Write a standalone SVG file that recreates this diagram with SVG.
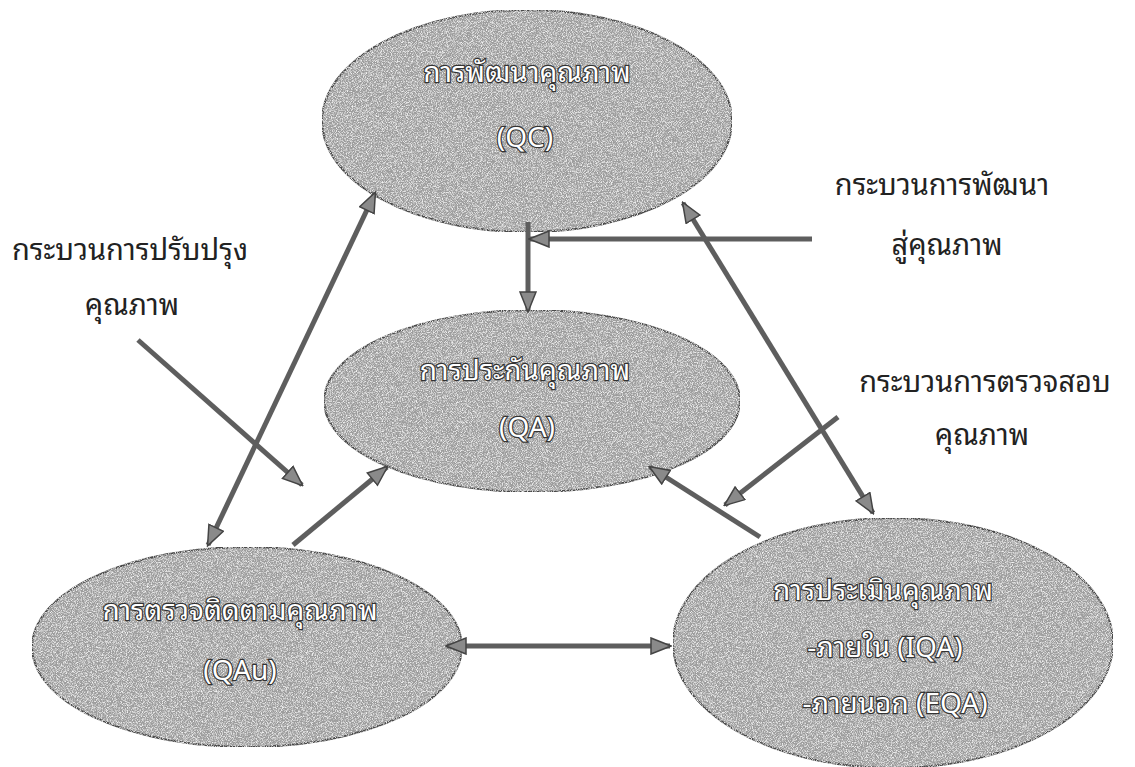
<svg xmlns="http://www.w3.org/2000/svg" width="1135" height="767" viewBox="0 0 1135 767">
<defs>
  <filter id="grain" x="0" y="0" width="100%" height="100%">
    <feTurbulence type="fractalNoise" baseFrequency="1.2" numOctaves="1" seed="3" result="n"/>
    <feColorMatrix in="n" type="matrix" values="0 0 0 0 0.9  0 0 0 0 0.9  0 0 0 0 0.9  0 0 0 3 -1.3" result="dots"/>
    <feComposite in="dots" in2="SourceGraphic" operator="in" result="d2"/>
    <feMerge><feMergeNode in="SourceGraphic"/><feMergeNode in="d2"/></feMerge>
  </filter>
  <marker id="ah" viewBox="0 0 22 18" refX="20" refY="9" markerWidth="22" markerHeight="18" markerUnits="userSpaceOnUse" orient="auto-start-reverse">
    <path d="M1,1 L21,9 L1,17 Z" fill="#8a8a8a" stroke="#444" stroke-width="1.5" stroke-linejoin="miter"/>
  </marker>
  <style>
    .node ellipse { fill: #9d9d9d; stroke: #4a4a4a; stroke-width: 2; }
    .nt { font-family: "Noto Sans Thai Looped", "Noto Serif Thai", "Noto Sans Thai", "Noto Sans", "DejaVu Sans", sans-serif; font-size: 28px; fill: #ffffff; stroke: #333; stroke-width: 2.4; paint-order: stroke; text-anchor: middle; }
    .lbl { font-family: "Noto Sans Thai Looped", "Noto Serif Thai", "Noto Sans Thai", "Noto Sans", "DejaVu Sans", sans-serif; font-size: 29px; fill: #222; text-anchor: middle; }
    .conn line { stroke: #5e5e5e; stroke-width: 5; }
  </style>
</defs>
<rect width="1135" height="767" fill="#ffffff"/>

<g id="node-qc" class="node">
  <ellipse cx="527" cy="121" rx="205" ry="111" filter="url(#grain)"/>
  <text class="nt" x="527" y="82">การพัฒนาคุณภาพ</text>
  <text class="nt" x="525" y="147">(QC)</text>
</g>
<g id="node-qa" class="node">
  <ellipse cx="532" cy="401" rx="208" ry="91" filter="url(#grain)"/>
  <text class="nt" x="525" y="380">การประกันคุณภาพ</text>
  <text class="nt" x="527" y="437">(QA)</text>
</g>
<g id="node-qau" class="node">
  <ellipse cx="247" cy="647" rx="215" ry="100" filter="url(#grain)"/>
  <text class="nt" x="240" y="620">การตรวจติดตามคุณภาพ</text>
  <text class="nt" x="240" y="680">(QAu)</text>
</g>
<g id="node-eqa" class="node">
  <ellipse cx="893" cy="643" rx="220" ry="125" filter="url(#grain)"/>
  <text class="nt" x="883" y="600">การประเมินคุณภาพ</text>
  <text class="nt" x="885" y="657">-ภายใน (IQA)</text>
  <text class="nt" x="895" y="713">-ภายนอก (EQA)</text>
</g>

<g id="labels">
  <text class="lbl" x="130" y="260">กระบวนการปรับปรุง</text>
  <text class="lbl" x="132" y="315">คุณภาพ</text>
  <text class="lbl" x="942" y="195">กระบวนการพัฒนา</text>
  <text class="lbl" x="947" y="255">สู่คุณภาพ</text>
  <text class="lbl" x="985" y="392">กระบวนการตรวจสอบ</text>
  <text class="lbl" x="982" y="445">คุณภาพ</text>
</g>

<g id="connectors" class="conn">
  <line x1="528" y1="222" x2="528" y2="311" marker-end="url(#ah)"/>
  <line x1="812" y1="239" x2="530" y2="239" marker-end="url(#ah)"/>
  <line x1="375" y1="193" x2="208" y2="545" marker-start="url(#ah)" marker-end="url(#ah)"/>
  <line x1="138" y1="340" x2="302" y2="485" marker-end="url(#ah)"/>
  <line x1="293" y1="545" x2="387" y2="467" marker-end="url(#ah)"/>
  <line x1="683" y1="203" x2="873" y2="513" marker-start="url(#ah)" marker-end="url(#ah)"/>
  <line x1="838" y1="417" x2="725" y2="505" marker-end="url(#ah)"/>
  <line x1="760" y1="537" x2="650" y2="467" marker-end="url(#ah)"/>
  <line x1="447" y1="646" x2="670" y2="646" marker-start="url(#ah)" marker-end="url(#ah)"/>
</g>
</svg>
